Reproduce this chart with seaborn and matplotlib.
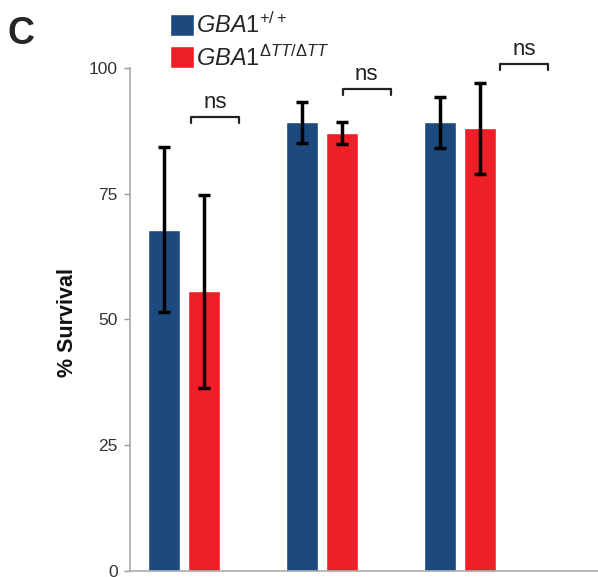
import matplotlib
matplotlib.use("Agg")
import matplotlib.pyplot as plt
import pandas as pd
import seaborn as sns

# values
groups = ["1", "2", "3"]
genotypes = [r"$\mathit{GBA1}^{\mathit{+/+}}$", r"$\mathit{GBA1}^{\mathit{ΔTT/ΔTT}}$"]
wt_survival = [67.8, 89.2, 89.2]
wt_err = [16.4, 4.1, 5.1]
mut_survival = [55.6, 87.0, 88.0]
mut_err = [19.2, 2.2, 9.1]

# "ns" brackets (x in category units, y in % survival)
bracket_left = [0.05, 0.15, 0.29]
bracket_right = [0.40, 0.50, 0.64]
bracket_y = [90.3, 95.8, 100.8]

blue = "#1d4a7e"
red = "#ee1f26"

df = pd.DataFrame({
    "group": groups * 2,
    "genotype": [genotypes[0]] * 3 + [genotypes[1]] * 3,
    "survival": wt_survival + mut_survival,
    "err": wt_err + mut_err,
})

sns.set_style("white")
plt.rcParams["font.family"] = ["Liberation Sans", "DejaVu Sans"]
plt.rcParams["mathtext.fontset"] = "custom"
plt.rcParams["mathtext.rm"] = "Liberation Sans"
plt.rcParams["mathtext.it"] = "Liberation Sans:italic"

fig = plt.figure(figsize=(5.98, 5.77), dpi=100)
ax = fig.add_axes([0.2174, 0.0104, 0.7826, 0.8718])

sns.barplot(data=df, x="group", y="survival", hue="genotype",
            palette=[blue, red], width=0.58, gap=0.2, errorbar=None,
            saturation=1, ax=ax)

# error bars on top of each bar
for container, errs in zip(ax.containers, [wt_err, mut_err]):
    xs = [p.get_x() + p.get_width() / 2 for p in container.patches]
    ys = [p.get_height() for p in container.patches]
    ax.errorbar(xs, ys, yerr=errs, fmt="none", ecolor="black",
                elinewidth=2.5, capsize=4, capthick=2.5, zorder=5)

# significance brackets
for i, (l, r, y) in enumerate(zip(bracket_left, bracket_right, bracket_y)):
    ax.plot([i + l, i + l, i + r, i + r], [y - 1.2, y, y, y - 1.2],
            color="#222222", lw=1.6, clip_on=False)
    ax.text(i + (l + r) / 2, y + 0.8, "ns", ha="center", va="bottom",
            fontsize=16, color="#222222", clip_on=False)

ax.set_ylim(0, 100)
ax.set_xlim(-0.39, 3.0)
ax.set_yticks([0, 25, 50, 75, 100])
ax.set_xticks([])
ax.set_xlabel("")
ax.set_ylabel("% Survival", fontsize=15.5, fontweight="bold", color="#111111")
ax.yaxis.set_label_coords(-0.112, 0.494)
ax.tick_params(axis="y", left=True, direction="out", length=4, width=1,
               color="#999999", labelsize=12.5, labelcolor="#333333", pad=5)
for side in ["top", "right"]:
    ax.spines[side].set_visible(False)
for side in ["left", "bottom"]:
    ax.spines[side].set_color("#aaaaaa")
    ax.spines[side].set_linewidth(1.2)

handles, labels = ax.get_legend_handles_labels()
ax.legend(handles, labels, loc="upper left", bbox_to_anchor=(0.262, 1.0),
          bbox_transform=fig.transFigure, frameon=False, fontsize=17,
          handlelength=1.05, handleheight=1.05, handletextpad=0.05,
          labelspacing=0.3, borderaxespad=0.15)

fig.text(0.012, 0.972, "C", fontsize=27, fontweight="bold", va="top")

fig.savefig("out.png", dpi=100)
